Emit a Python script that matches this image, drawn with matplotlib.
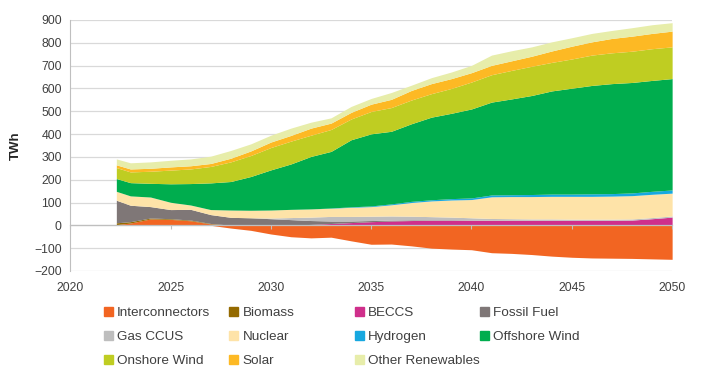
import numpy as np
import matplotlib.pyplot as plt
from matplotlib.patches import Patch

plt.rcParams['font.family'] = ['Liberation Sans', 'DejaVu Sans']

#%%
# Data (TWh)
years = [2022.3] + list(range(2023, 2051))

interconnectors = [3, 10, 28, 26, 20, 6, -12, -22, -38, -50, -55, -52, -68, -83, -82,
                   -90, -100, -104, -107, -120, -123, -128, -135, -140, -143, -144, -145, -147, -149]
biomass = [8, 6, 4, 3, 3, 2, 1, 0, 0, 0, 0, 0, 0, 0, 0,
           0, 0, 0, 0, 0, 0, 0, 0, 0, 0, 0, 0, 0, 0]
beccs = [0, 0, 0, 0, 0, 0, 0, 0, 0, 1, 4, 8, 12, 16, 19,
         21, 22, 22, 22, 22, 22, 22, 22, 22, 22, 22, 23, 29, 36]
fossil = [99, 72, 50, 40, 47, 39, 34, 33, 29, 24, 17, 11, 7, 5, 4,
          3, 2, 2, 1, 0, 0, 0, 0, 0, 0, 0, 0, 0, 0]
gas_ccus = [0, 0, 0, 0, 0, 0, 0, 0, 3, 9, 15, 20, 20, 19, 18,
            16, 14, 12, 10, 8, 7, 6, 6, 5, 5, 5, 5, 5, 5]
nuclear = [39, 41, 42, 32, 19, 22, 32, 33, 35, 36, 36, 36, 40, 42, 49,
           60, 69, 75, 80, 95, 97, 98, 99, 100, 100, 101, 102, 102, 100]
hydrogen = [0, 0, 0, 0, 0, 0, 0, 0, 0, 0, 0, 1, 2, 3, 4,
            5, 5, 6, 7, 8, 8, 9, 10, 10, 11, 11, 12, 13, 14]
offshore = [56, 58, 60, 81, 94, 117, 125, 148, 176, 199, 230, 248, 294, 316, 318,
            340, 362, 374, 390, 407, 420, 434, 452, 464, 475, 482, 484, 486, 488]
onshore = [48, 47, 53, 60, 64, 72, 86, 92, 98, 100, 93, 96, 91, 98, 104,
           104, 103, 109, 118, 120, 125, 128, 125, 128, 133, 135, 137, 139, 139]
solar = [12, 13, 13, 14, 14, 13, 16, 20, 24, 25, 31, 28, 29, 32, 36,
         42, 44, 43, 41, 41, 42, 44, 50, 56, 58, 63, 66, 67, 69]
other = [26, 27, 28, 29, 30, 32, 34, 31, 30, 32, 26, 23, 26, 25, 30,
         23, 26, 29, 32, 45, 44, 41, 40, 37, 37, 35, 37, 38, 37]

labels = ['Interconnectors', 'Biomass', 'BECCS', 'Fossil Fuel', 'Gas CCUS', 'Nuclear',
          'Hydrogen', 'Offshore Wind', 'Onshore Wind', 'Solar', 'Other Renewables']
colors = ['#F26522', '#946A00', '#CF2F8B', '#7F7777', '#BEBEBE', '#FEE3A8',
          '#17A8E0', '#00AD4E', '#BFCD22', '#FDB924', '#E7EDAA']
stack = [biomass, beccs, fossil, gas_ccus, nuclear, hydrogen, offshore, onshore, solar, other]

#%%
# Plot
fig = plt.figure(figsize=(7.09, 3.91), dpi=100)
ax = fig.add_axes([0.099, 0.307, 0.849, 0.642])

x = np.array(years)
ic = np.array(interconnectors, dtype=float)
ax.fill_between(x, np.minimum(ic, 0), 0, color=colors[0], lw=0, zorder=2)
base = np.maximum(ic, 0)
ax.fill_between(x, 0, base, color=colors[0], lw=0, zorder=2)
for vals, col in zip(stack, colors[1:]):
    top = base + np.array(vals, dtype=float)
    ax.fill_between(x, base, top, color=col, lw=0, zorder=2)
    base = top

ax.set_xlim(2020, 2050)
ax.set_ylim(-200, 900)
ax.set_yticks(range(-200, 901, 100))
ax.set_xticks(range(2020, 2051, 5))
ax.grid(axis='y', color='#D9D9D9', lw=0.9)
ax.set_axisbelow(True)
for s in ['top', 'right', 'bottom']:
    ax.spines[s].set_visible(False)
ax.spines['left'].set_color('#BFBFBF')
ax.tick_params(axis='both', length=0, labelsize=8.8, colors='#404040')
ax.tick_params(axis='y', pad=6)
ax.tick_params(axis='x', pad=8)

# zero line with tick marks
sec = ax.secondary_xaxis(200 / 1100)
sec.set_xticks(range(2020, 2051, 5))
sec.tick_params(length=3, direction='out', color='#BFBFBF', labelbottom=False)
sec.spines['bottom'].set_color('#BFBFBF')
sec.spines['bottom'].set_linewidth(0.9)
sec.set_zorder(5)

ax.set_ylabel('TWh', fontweight='bold', fontsize=9.5, color='#262626')
ax.yaxis.set_label_coords(-0.08, 0.5)

# legend, 4 columns placed like the original
handles = [Patch(color=c, label=l) for l, c in zip(labels, colors)]
col_x = [103.5, 229, 354.5, 480]
for i, cx in enumerate(col_x):
    leg = fig.legend(handles=handles[i::4], loc='upper left',
                     bbox_to_anchor=(cx / 709, 1 - 307 / 391), frameon=False,
                     fontsize=9.7, handlelength=0.7, handleheight=0.7,
                     handletextpad=0.3, labelspacing=0.85, borderpad=0,
                     borderaxespad=0)
    for t in leg.get_texts():
        t.set_color('#404040')

fig.savefig('out.png', dpi=100)
